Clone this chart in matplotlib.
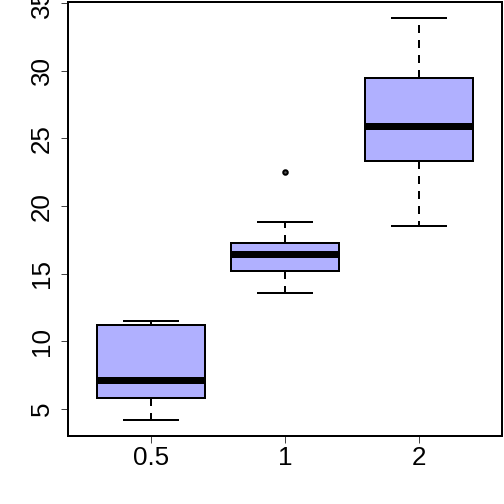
import matplotlib
matplotlib.use("Agg")
import matplotlib.pyplot as plt

# ---------------------------------------------------------------------
# DADES (estadístics del boxplot, estil R: fivenum)
# ---------------------------------------------------------------------
doses = ["0.5", "1", "2"]
whisker_low = [4.2, 13.6, 18.5]
q1 = [5.8, 15.2, 23.3]
medians = [7.15, 16.5, 25.95]
q3 = [11.2, 17.3, 29.5]
whisker_high = [11.5, 18.8, 33.9]
outliers = [[], [22.5], []]

y_ticks = [5, 10, 15, 20, 25, 30, 35]

plt.rcParams["font.family"] = ["Liberation Sans", "DejaVu Sans"]

fig = plt.figure(figsize=(7, 7), dpi=72)
ax = fig.add_axes([68 / 504, 68 / 504, 434 / 504, 434 / 504])

stats = []
for i in range(len(doses)):
    stats.append({
        "whislo": whisker_low[i], "q1": q1[i], "med": medians[i],
        "q3": q3[i], "whishi": whisker_high[i], "fliers": outliers[i],
    })

ax.bxp(stats, positions=[1, 2, 3], widths=0.8, patch_artist=True,
       boxprops=dict(facecolor="#B0B0FF", edgecolor="black", linewidth=2),
       medianprops=dict(color="black", linewidth=7, solid_capstyle="butt"),
       whiskerprops=dict(color="black", linewidth=2, linestyle=(0, (4, 3.5))),
       capprops=dict(color="black", linewidth=2),
       capwidths=0.4,
       flierprops=dict(marker="o", markersize=4.5, markerfacecolor="#555555",
                       markeredgecolor="black", markeredgewidth=2))

ax.set_xlim(0.38, 3.62)
ax.set_ylim(3.012, 35.088)
ax.set_xticks([1, 2, 3])
ax.set_xticklabels(doses)
ax.set_yticks(y_ticks)

for s in ax.spines.values():
    s.set_linewidth(2)

ax.tick_params(axis="both", length=7, width=1, labelsize=26, color="#444444")
ax.tick_params(axis="x", pad=3)
ax.tick_params(axis="y", pad=7)
for lab in ax.get_yticklabels():
    lab.set_rotation(90)
    lab.set_va("center")

fig.savefig("out.png", dpi=72)
